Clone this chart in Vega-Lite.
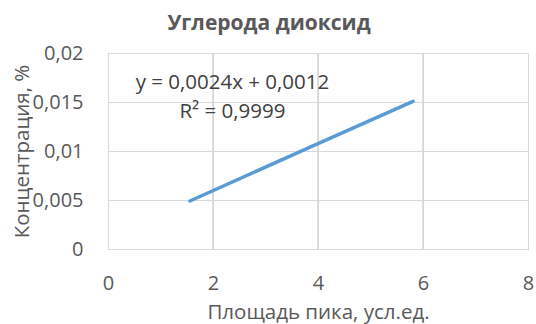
{
  "$schema": "https://vega.github.io/schema/vega-lite/v6.json",
  "width": 420,
  "height": 196,
  "autosize": {"type": "none"},
  "padding": {"left": 108, "top": 53, "right": 8, "bottom": 75},
  "background": "white",
  "config": {
    "font": "Open Sans",
    "view": {"stroke": "#d9d9d9", "strokeWidth": 1},
    "axis": {
      "domain": false,
      "ticks": false,
      "gridColor": "#d9d9d9",
      "gridWidth": 1,
      "gridOpacity": 1,
      "labelColor": "#595959",
      "titleColor": "#595959",
      "labelFont": "Open Sans",
      "titleFont": "Open Sans",
      "labelFontSize": 20,
      "titleFontSize": 20.5,
      "titleFontWeight": "normal",
      "labelFlush": false,
      "labelOverlap": false
    }
  },
  "title": {
    "text": "Углерода диоксид",
    "font": "Open Sans",
    "fontSize": 21,
    "fontWeight": "bold",
    "color": "#595959",
    "anchor": "middle",
    "frame": "group",
    "dx": -49,
    "offset": 9
  },
  "layer": [
    {
      "data": {"values": [{"area": 2, "lo": 0, "hi": 0.02}, {"area": 4, "lo": 0, "hi": 0.02}, {"area": 6, "lo": 0, "hi": 0.02}]},
      "mark": {"type": "rule", "color": "#d4d4d4", "strokeWidth": 1.5},
      "encoding": {
        "x": {"field": "area", "type": "quantitative"},
        "y": {"field": "lo", "type": "quantitative"},
        "y2": {"field": "hi"}
      }
    },
    {
      "data": {"values": [
        {"area": 1.56, "conc": 0.0049},
        {"area": 3.85, "conc": 0.0104},
        {"area": 5.81, "conc": 0.01506}
      ]},
      "mark": {"type": "line", "color": "#5b9bd5", "strokeWidth": 3.5, "strokeCap": "round"},
      "encoding": {
        "x": {
          "field": "area", "type": "quantitative",
          "scale": {"domain": [0, 8], "nice": false},
          "axis": {"values": [0, 2, 4, 6, 8], "title": "Площадь пика, усл.ед.", "labelPadding": 24, "titlePadding": 9, "format": "d", "grid": true}
        },
        "y": {
          "field": "conc", "type": "quantitative",
          "scale": {"domain": [0, 0.02], "nice": false},
          "axis": {"values": [0, 0.005, 0.01, 0.015, 0.02], "title": "Концентрация, %", "labelPadding": 25, "titlePadding": 0, "grid": true,
            "labelExpr": "replace(format(datum.value, '~g'), '.', ',')"}
        }
      }
    },
    {
      "data": {"values": [
        {"area": 2.37, "conc": 0.01695, "label": "y = 0,0024x + 0,0012"},
        {"area": 2.37, "conc": 0.0140, "label": "R² = 0,9999"}
      ]},
      "mark": {"type": "text", "font": "Open Sans", "fontSize": 20.5, "color": "#404040", "align": "center", "baseline": "middle"},
      "encoding": {
        "x": {"field": "area", "type": "quantitative"},
        "y": {"field": "conc", "type": "quantitative"},
        "text": {"field": "label"}
      }
    }
  ]
}
